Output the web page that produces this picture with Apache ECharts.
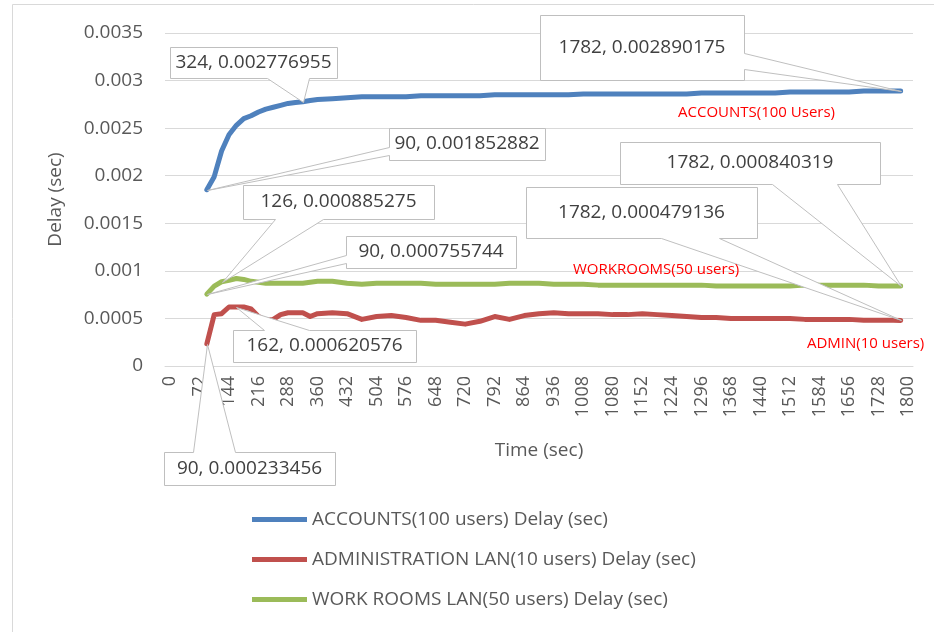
<!DOCTYPE html>
<html>
<head>
<meta charset="utf-8">
<script src="https://cdn.jsdelivr.net/npm/echarts@6/dist/echarts.min.js"></script>
<style>
html,body{margin:0;padding:0;background:#fff}
#main{width:934px;height:632px}
</style>
</head>
<body>
<div id="main"></div>
<script>
// time axis (sec) shared by all three series
var times = [90,108,126,144,162,180,198,216,234,252,270,288,306,324,342,360,
  396,432,468,504,540,576,612,648,684,720,756,792,828,864,900,936,972,1008,
  1044,1080,1116,1152,1188,1224,1260,1296,1332,1368,1404,1440,1476,1512,1548,
  1584,1620,1656,1692,1728,1764,1782];

var accounts = [0.001852882,0.00199,0.00226,0.00243,0.00253,0.00260,0.00263,0.00267,
  0.00270,0.00272,0.00274,0.00276,0.00277,0.002776955,0.00279,0.00280,
  0.00281,0.00282,0.00283,0.00283,0.00283,0.00283,0.00284,0.00284,
  0.00284,0.00284,0.00284,0.00285,0.00285,0.00285,0.00285,0.00285,
  0.00285,0.00286,0.00286,0.00286,0.00286,0.00286,0.00286,0.00286,
  0.00286,0.00287,0.00287,0.00287,0.00287,0.00287,0.00287,0.00288,
  0.00288,0.00288,0.00288,0.00288,0.00289,0.00289,0.00289,0.002890175];

var admin = [0.000233456,0.00054,0.00055,0.00062,0.000620576,0.00062,0.00060,0.00052,
  0.00048,0.00049,0.00054,0.00056,0.00056,0.00056,0.00052,0.00055,
  0.00056,0.00055,0.00049,0.00052,0.00053,0.00051,0.00048,0.00048,
  0.00046,0.00044,0.00047,0.00052,0.00049,0.00053,0.00055,0.00056,
  0.00055,0.00055,0.00055,0.00054,0.00054,0.00055,0.00054,0.00053,
  0.00052,0.00051,0.00051,0.00050,0.00050,0.00050,0.00050,0.00050,
  0.00049,0.00049,0.00049,0.00049,0.00048,0.00048,0.00048,0.000479136];

var workrooms = [0.000755744,0.00084,0.000885275,0.00090,0.00092,0.00091,0.00089,0.00088,
  0.00087,0.00087,0.00087,0.00087,0.00087,0.00087,0.00088,0.00089,
  0.00089,0.00087,0.00086,0.00087,0.00087,0.00087,0.00087,0.00086,
  0.00086,0.00086,0.00086,0.00086,0.00087,0.00087,0.00087,0.00086,
  0.00086,0.00086,0.00085,0.00085,0.00085,0.00085,0.00085,0.00085,
  0.00085,0.00085,0.00084,0.00084,0.00084,0.00084,0.00084,0.00084,
  0.00085,0.00085,0.00085,0.00085,0.00085,0.00084,0.00084,0.000840319];

var seriesNames = ['ACCOUNTS(100 users) Delay (sec)',
  'ADMINISTRATION LAN(10 users) Delay (sec)',
  'WORK ROOMS LAN(50 users) Delay (sec)'];

var xLabels = [0,72,144,216,288,360,432,504,576,648,720,792,864,936,1008,
  1080,1152,1224,1296,1368,1440,1512,1584,1656,1728,1800];

// data callouts: [series index, time]
var callouts = [[0,324],[0,1782],[0,90],[1,1782],[1,162],[1,90],[2,126],[2,1782],[2,90]];
// callout boxes [left, top, width, height]
var boxes = [[170,47,167,31],[540,15,204,65],[389,128,156,32],[526,187,231,51],
  [233,330,183,32],[164,452,171,33],[243,185,191,34],[620,142,260,42],[346,236,170,32]];

var notes = ['ACCOUNTS(100 Users)','WORKROOMS(50 users)','ADMIN(10 users)'];
var notePos = [[678,113],[573,270],[807,344]];

var font = '"Open Sans", sans-serif';
var allData = [accounts, admin, workrooms];
function pairs(vals){
  return times.map(function(t, i){ return [t, vals[i]]; });
}

var myChart = echarts.init(document.getElementById('main'));
var option = {
  animation: false,
  textStyle: {fontFamily: font},
  color: ['#4F81BD','#C0504D','#9BBB59'],
  grid: {left: 165, right: 21, top: 33, bottom: 266},
  legend: {
    orient: 'vertical',
    left: 247,
    top: 505,
    itemGap: 21,
    itemWidth: 55,
    itemHeight: 5,
    icon: 'rect',
    textStyle: {fontSize: 19, color: '#595959'},
    data: seriesNames
  },
  xAxis: {
    type: 'value',
    min: -12,
    max: 1812,
    name: 'Time (sec)',
    nameLocation: 'middle',
    nameGap: 75,
    nameTextStyle: {fontSize: 19, color: '#595959'},
    axisLine: {show: true, lineStyle: {color: '#d9d9d9'}},
    axisTick: {show: false},
    splitLine: {show: false},
    axisLabel: {
      customValues: xLabels, rotate: 90, fontSize: 18, color: '#595959', margin: 10,
      formatter: function(v){ return String(v); }
    }
  },
  yAxis: {
    type: 'value',
    min: 0,
    max: 0.0035,
    interval: 0.0005,
    name: 'Delay (sec)',
    nameLocation: 'middle',
    nameGap: 100,
    nameTextStyle: {fontSize: 19, color: '#595959'},
    axisLine: {show: false},
    axisTick: {show: false},
    splitLine: {lineStyle: {color: '#d9d9d9'}},
    axisLabel: {
      fontSize: 19, color: '#595959', margin: 22,
      formatter: function(v){ return String(+v.toFixed(4)); }
    }
  },
  series: allData.map(function(d, i){
    return {
      name: seriesNames[i],
      type: 'line',
      showSymbol: false,
      symbol: 'none',
      lineStyle: {width: 5, cap: 'round', join: 'round'},
      data: pairs(d)
    };
  })
};
myChart.setOption(option);

// excel style wedge callouts
var g = [];
g.push({type: 'rect', shape: {x: 12.5, y: 4.5, width: 940, height: 650},
  style: {fill: 'none', stroke: '#d9d9d9', lineWidth: 1}, z: 1, silent: true});

callouts.forEach(function(c, k){
  var s = c[0], t = c[1];
  var v = allData[s][times.indexOf(t)];
  var tip = myChart.convertToPixel({gridIndex: 0}, [t, v]);
  var b = boxes[k];
  var x = b[0], y = b[1], w = b[2], h = b[3];
  var dx = tip[0] - (x + w / 2), dy = tip[1] - (y + h / 2);
  var x1 = x + w * (dx > 0 ? 7 : 2) / 12, x2 = x + w * (dx > 0 ? 10 : 5) / 12;
  var y1 = y + h * (dy > 0 ? 7 : 2) / 12, y2 = y + h * (dy > 0 ? 10 : 5) / 12;
  var pts;
  if (Math.abs(dx) * h > Math.abs(dy) * w) {
    if (dx > 0) pts = [[x,y],[x+w,y],[x+w,y1],tip,[x+w,y2],[x+w,y+h],[x,y+h]];
    else pts = [[x,y],[x+w,y],[x+w,y+h],[x,y+h],[x,y2],tip,[x,y1]];
  } else {
    if (dy > 0) pts = [[x,y],[x+w,y],[x+w,y+h],[x2,y+h],tip,[x1,y+h],[x,y+h]];
    else pts = [[x,y],[x1,y],tip,[x2,y],[x+w,y],[x+w,y+h],[x,y+h]];
  }
  pts = pts.map(function(p){ return [Math.round(p[0]) + 0.5, Math.round(p[1]) + 0.5]; });
  g.push({type: 'polygon', shape: {points: pts},
    style: {fill: '#fff', stroke: '#bfbfbf', lineWidth: 1}, z: 10 + 2 * k, silent: true});
  g.push({type: 'text', x: x + w / 2, y: y + h / 2,
    style: {text: t + ', ' + v, align: 'center', verticalAlign: 'middle',
      fontSize: 19, fill: '#404040', fontFamily: font}, z: 11 + 2 * k, silent: true});
});

notes.forEach(function(n, i){
  g.push({type: 'text', x: notePos[i][0], y: notePos[i][1],
    style: {text: n, align: 'left', verticalAlign: 'middle', fontSize: 15,
      fill: '#FF0000', fontFamily: font}, z: 40, silent: true});
});

myChart.setOption({graphic: g});
</script>
</body>
</html>
